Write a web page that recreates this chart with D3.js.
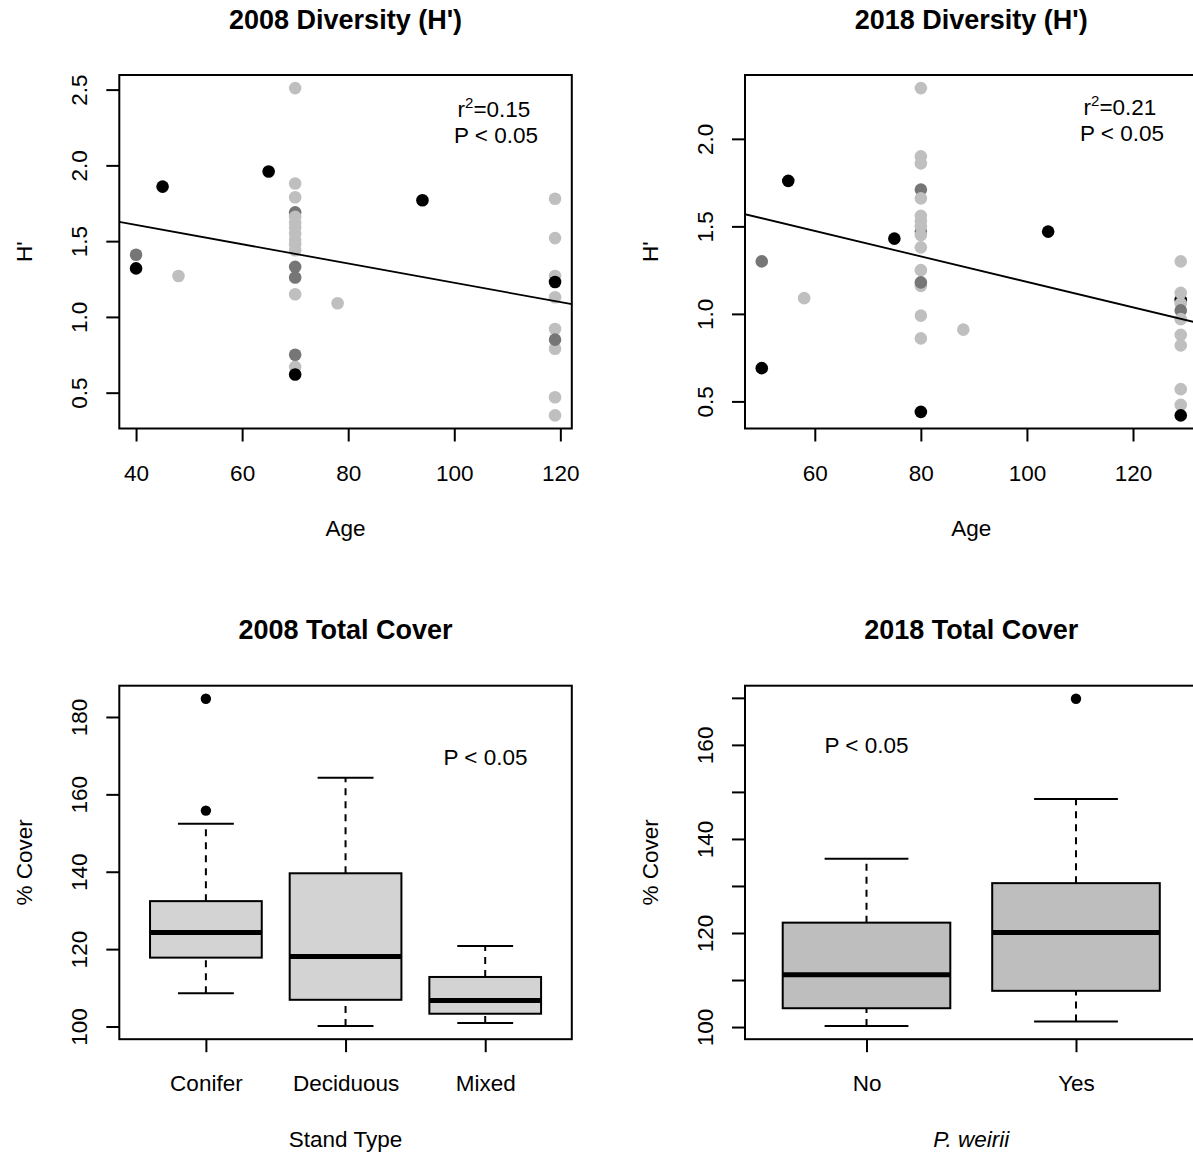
<!DOCTYPE html>
<html>
<head>
<meta charset="utf-8">
<script src="https://cdn.jsdelivr.net/npm/d3@7"></script>
<style>
  body { margin: 0; background: #fff; }
  text { font-family: "Liberation Sans", Arial, Helvetica, sans-serif; fill: #000; }
</style>
</head>
<body>
<svg id="chart" width="1193" height="1154"></svg>
<script>
// ---- 2008 diversity vs age (b = black, d = dark grey, l = light grey)
const age2008 = [40, 40, 45, 48, 65, 94, 78,
  70, 70, 70, 70, 70, 70, 70, 70, 70, 70, 70, 70, 70, 70, 70, 70, 70,
  119, 119, 119, 119, 119, 119, 119, 119, 119, 119];
const div2008 = [1.41, 1.32, 1.86, 1.27, 1.96, 1.77, 1.09,
  1.69, 2.51, 1.88, 1.79, 1.66, 1.62, 1.59, 1.55, 1.51, 1.48, 1.44, 1.33, 1.26, 1.15, 0.67, 0.75, 0.62,
  1.78, 1.52, 1.27, 1.23, 1.13, 0.92, 0.79, 0.85, 0.47, 0.35];
const grp2008 = ["d", "b", "b", "l", "b", "b", "l",
  "d", "l", "l", "l", "l", "l", "l", "l", "l", "l", "l", "d", "d", "l", "l", "d", "b",
  "l", "l", "l", "b", "l", "l", "l", "d", "l", "l"];
const fit2008 = [1.862, -0.00637];

// ---- 2018 diversity vs age
const age2018 = [50, 50, 55, 58, 75, 104, 88,
  80, 80, 80, 80, 80, 80, 80, 80, 80, 80, 80, 80, 80, 80, 80, 80, 80,
  129, 129, 129, 129, 129, 129, 129, 129, 129, 129, 129];
const div2018 = [1.30, 0.69, 1.76, 1.09, 1.43, 1.47, 0.91,
  2.29, 1.90, 1.86, 1.71, 1.66, 1.47, 1.56, 1.53, 1.50, 1.45, 1.38, 1.25, 1.16, 1.18, 0.99, 0.86, 0.44,
  1.30, 1.08, 1.12, 1.06, 1.02, 0.97, 0.88, 0.82, 0.57, 0.48, 0.42];
const grp2018 = ["d", "b", "b", "l", "b", "b", "l",
  "l", "l", "l", "d", "l", "d", "l", "l", "l", "l", "l", "l", "l", "d", "l", "l", "b",
  "l", "b", "l", "l", "d", "l", "l", "l", "l", "l", "b"];
const fit2018 = [1.910, -0.00727];

const ageTicks2008 = [40, 60, 80, 100, 120];
const ageTicks2018 = [60, 80, 100, 120];
const divTicks2008 = [0.5, 1.0, 1.5, 2.0, 2.5];
const divTicks2018 = [0.5, 1.0, 1.5, 2.0];

// ---- total cover boxplots: [lower whisker, Q1, median, Q3, upper whisker]
const standTypes = ["Conifer", "Deciduous", "Mixed"];
const cover2008 = [[108.6, 117.8, 124.3, 132.4, 152.4],
                   [100.1, 106.9, 118.1, 139.6, 164.3],
                   [100.9, 103.3, 106.7, 112.8, 120.8]];
const out2008 = [[155.8, 184.7], [], []];
const coverTicks2008 = [100, 120, 140, 160, 180];

const weirii = ["No", "Yes"];
const cover2018 = [[100.2, 104.0, 111.1, 122.2, 135.8],
                   [101.2, 107.7, 120.1, 130.6, 148.5]];
const out2018 = [[], [169.8]];
const coverTicks2018 = [100, 110, 120, 130, 140, 150, 160, 170];

const colours = { b: "#000000", d: "#767676", l: "#bfbfbf" };

const svg = d3.select("#chart");
svg.append("rect").attr("width", 1193).attr("height", 1154).attr("fill", "#fff");

const W = 452.5, H = 353.5;
const LBL = 22.5;

// R style axis range: data extent padded by 4% either side
function pad(ext) {
  const d = (ext[1] - ext[0]) * 0.04;
  return [ext[0] - d, ext[1] + d];
}

function frame(g, x0, y0, title, xlab, ylab, italicX) {
  g.append("text").attr("x", x0 + W / 2).attr("y", y0 - 46.5)
    .attr("text-anchor", "middle").style("font-size", "27px").style("font-weight", "bold")
    .text(title);
  g.append("text").attr("x", x0 + W / 2).attr("y", y0 + H + 107.5)
    .attr("text-anchor", "middle").style("font-size", LBL + "px")
    .style("font-style", italicX ? "italic" : "normal")
    .text(xlab);
  g.append("text").attr("transform", "translate(" + (x0 - 87) + "," + (y0 + H / 2) + ") rotate(-90)")
    .attr("text-anchor", "middle").style("font-size", LBL + "px")
    .text(ylab);
}

function axes(g, x, y, x0, y0, xTicks, xFmt, yTicks, yFmt) {
  const xa = g.append("g").attr("transform", "translate(0," + (y0 + H) + ")")
    .call(d3.axisBottom(x).tickValues(xTicks).tickSize(13).tickFormat(xFmt));
  const ya = g.append("g").attr("transform", "translate(" + x0 + ",0)")
    .call(d3.axisLeft(y).tickValues(yTicks).tickSize(13).tickFormat(yFmt));
  [xa, ya].forEach(a => {
    a.select(".domain").remove();
    a.selectAll("line").attr("stroke", "#000").attr("stroke-width", 2);
    a.selectAll("text").style("font-size", LBL + "px").attr("fill", "#000")
      .style("font-family", '"Liberation Sans", Arial, sans-serif');
  });
  xa.selectAll("text").attr("y", 52).attr("dy", 0);
  ya.selectAll("text").attr("x", null).attr("dy", 0)
    .attr("text-anchor", "middle").attr("transform", "translate(-32.5,0) rotate(-90)");
  g.append("rect").attr("x", x0).attr("y", y0).attr("width", W).attr("height", H)
    .attr("fill", "none").attr("stroke", "#000").attr("stroke-width", 2);
}

function scatter(x0, y0, id, ages, vals, grps, fit, xTicks, yTicks, title, stat) {
  const g = svg.append("g");
  const x = d3.scaleLinear().domain(pad(d3.extent(ages))).range([x0, x0 + W]);
  const y = d3.scaleLinear().domain(pad(d3.extent(vals))).range([y0 + H, y0]);

  g.append("clipPath").attr("id", id).append("rect")
    .attr("x", x0).attr("y", y0).attr("width", W).attr("height", H);

  const pts = ages.map((a, i) => ({ a: a, v: vals[i], c: grps[i] }));
  g.selectAll("circle").data(pts).enter().append("circle")
    .attr("cx", d => x(d.a)).attr("cy", d => y(d.v)).attr("r", 6.3)
    .attr("fill", d => colours[d.c]);

  const dom = x.domain();
  g.append("line").attr("clip-path", "url(#" + id + ")")
    .attr("x1", x(dom[0])).attr("y1", y(fit[0] + fit[1] * dom[0]))
    .attr("x2", x(dom[1])).attr("y2", y(fit[0] + fit[1] * dom[1]))
    .attr("stroke", "#000").attr("stroke-width", 1.8);

  axes(g, x, y, x0, y0, xTicks, d3.format("d"), yTicks, d3.format(".1f"));
  frame(g, x0, y0, title, "Age", "H'");

  const r2 = g.append("text").attr("x", stat.x).attr("y", stat.y)
    .attr("text-anchor", "middle").style("font-size", LBL + "px");
  r2.append("tspan").text("r");
  r2.append("tspan").attr("dy", -9).style("font-size", "15px").text("2");
  r2.append("tspan").attr("dy", 9).text("=" + stat.r2);
  g.append("text").attr("x", stat.x + 2).attr("y", stat.y + 26)
    .attr("text-anchor", "middle").style("font-size", LBL + "px").text("P < 0.05");
}

function boxes(x0, y0, cats, stats, outs, yTicks, fill, title, xlab, italicX, pPos) {
  const g = svg.append("g");
  const n = cats.length;
  const x = d3.scaleLinear().domain(pad([0.5, n + 0.5])).range([x0, x0 + W]);
  const allVals = stats.flat().concat(outs.flat());
  const y = d3.scaleLinear().domain(pad(d3.extent(allVals))).range([y0 + H, y0]);
  const bw = x(0.4) - x(0), cw = x(0.2) - x(0);

  const grp = g.selectAll(".bx").data(stats).enter().append("g").attr("class", "bx");
  // whiskers
  grp.append("line").attr("x1", (d, i) => x(i + 1)).attr("x2", (d, i) => x(i + 1))
    .attr("y1", d => y(d[0])).attr("y2", d => y(d[1]))
    .attr("stroke", "#000").attr("stroke-width", 2).attr("stroke-dasharray", "7,6");
  grp.append("line").attr("x1", (d, i) => x(i + 1)).attr("x2", (d, i) => x(i + 1))
    .attr("y1", d => y(d[3])).attr("y2", d => y(d[4]))
    .attr("stroke", "#000").attr("stroke-width", 2).attr("stroke-dasharray", "7,6");
  [0, 4].forEach(k => {
    grp.append("line").attr("x1", (d, i) => x(i + 1) - cw).attr("x2", (d, i) => x(i + 1) + cw)
      .attr("y1", d => y(d[k])).attr("y2", d => y(d[k]))
      .attr("stroke", "#000").attr("stroke-width", 2);
  });
  grp.append("rect").attr("x", (d, i) => x(i + 1) - bw).attr("width", 2 * bw)
    .attr("y", d => y(d[3])).attr("height", d => y(d[1]) - y(d[3]))
    .attr("fill", fill).attr("stroke", "#000").attr("stroke-width", 2);
  grp.append("line").attr("x1", (d, i) => x(i + 1) - bw).attr("x2", (d, i) => x(i + 1) + bw)
    .attr("y1", d => y(d[2])).attr("y2", d => y(d[2]))
    .attr("stroke", "#000").attr("stroke-width", 5);

  const op = [];
  outs.forEach((o, i) => o.forEach(v => op.push({ i: i, v: v })));
  g.selectAll(".out").data(op).enter().append("circle").attr("class", "out")
    .attr("cx", d => x(d.i + 1)).attr("cy", d => y(d.v)).attr("r", 5.2).attr("fill", "#000");

  axes(g, x, y, x0, y0, d3.range(1, n + 1), i => cats[i - 1], yTicks, d => (d % 20 === 0 ? d : ""));
  frame(g, x0, y0, title, xlab, "% Cover", italicX);

  g.append("text").attr("x", pPos.x).attr("y", pPos.y).attr("text-anchor", "middle")
    .style("font-size", LBL + "px").text("P < 0.05");
}

scatter(119.3, 75, "clipA", age2008, div2008, grp2008, fit2008, ageTicks2008, divTicks2008,
  "2008 Diversity (H')", { x: 494, y: 117, r2: "0.15" });
scatter(745, 75, "clipB", age2018, div2018, grp2018, fit2018, ageTicks2018, divTicks2018,
  "2018 Diversity (H')", { x: 1120, y: 115, r2: "0.21" });

boxes(119.3, 685.7, standTypes, cover2008, out2008, coverTicks2008, "#d3d3d3",
  "2008 Total Cover", "Stand Type", false, { x: 485.5, y: 765 });
boxes(745, 685.7, weirii, cover2018, out2018, coverTicks2018, "#bebebe",
  "2018 Total Cover", "P. weirii", true, { x: 866.5, y: 753 });
</script>
</body>
</html>
